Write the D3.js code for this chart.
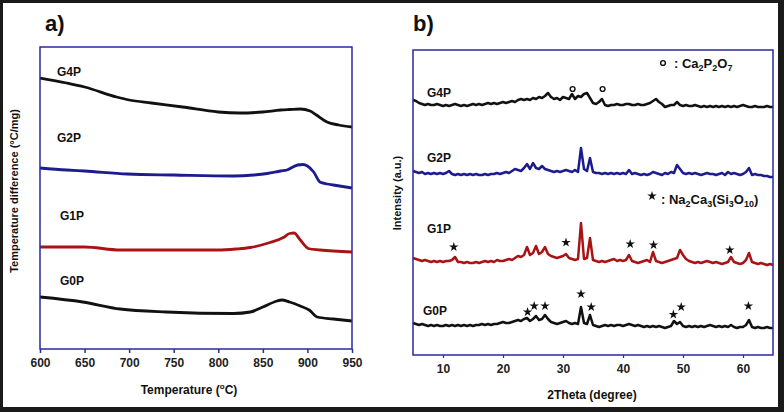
<!DOCTYPE html>
<html><head><meta charset="utf-8">
<script src="https://cdn.jsdelivr.net/npm/d3@7"></script>
<style>
body{margin:0;background:#fff}
text{font-family:"Liberation Sans",Arial,sans-serif;font-weight:bold}
</style>
</head><body>
<svg id="c" width="784" height="412"></svg>
<script>
// ---------- Panel a) DTA data (temperature °C, signal a.u.) ----------
const tempTicks = [600,650,700,750,800,850,900,950];
const g4pT = [600,630,650,686,700,725,760,800,824,850,870,880,892,903,910,922,935,950];
const g4pV = [271,266,262,252,249,246,242,237,236,237,239,239.5,240,238,234,227,224,222];
const g2pT = [600,630,650,698,750,817,840,855,870,877,889,895,900,907,914,922,929,950];
const g2pV = [181,179,178,175,174,173,174,175.5,178,179,184,184.5,183,177,167,165,164,161];
const g1pT = [600,650,690,750,799,820,836,858,873,880,885,892,901,914,950];
const g1pV = [102,102,99,99,99,100,101.5,106.5,111.5,115.5,116,109,100.5,99,97];
const g0pT = [600,648,690,742,817,836,850,866,871,880,892,902,911,929,950];
const g0pV = [52,47,40,37,35.5,37,42,48,49,47,43,39,32,30,28];
const dtaLabels = ["G4P","G2P","G1P","G0P"];

// ---------- Panel b) XRD data (2θ step 0.5°, intensity a.u.) ----------
const thetaTicks = [10,20,30,40,50,60];
const twoTheta = d3.range(5, 65.001, 0.5);
const xrdG4P = [
 255,254,252,251,250,251,250,250,251,250,
 249,250,249,250,251,250,249,250,249,250,
 251,250,251,250,251,252,251,252,251,252,
 253,252,253,254,253,255,256,255,256,255,
 257,256,258,257,259,262,258,256,257,255,
 258,257,256,261,256,259,258,261,262,257,
 252,251,253,256,250,249,250,250,251,250,
 250,251,251,250,250,251,250,250,251,252,
 254,256,253,251,248,249,250,250,253,250,
 249,250,249,249,250,249,248,249,248,249,
 248,249,248,249,248,249,248,249,248,249,
 250,249,248,248,249,248,248,248,249,248,
 248];
const xrdG2P = [
 184,183,182,183,181,182,181,182,181,182,
 181,182,184,181,180,181,180,181,180,181,
 180,181,180,180,181,180,181,181,182,181,
 182,183,182,184,186,185,184,187,191,186,
 192,187,186,189,186,185,184,183,184,183,
 184,185,184,183,185,183,207,186,184,197,
 183,182,182,181,182,181,182,181,182,181,
 182,181,185,181,182,181,180,181,180,181,
 183,182,181,180,182,181,183,182,190,186,
 182,181,182,181,182,181,180,181,182,181,
 181,180,181,182,180,183,181,182,181,180,
 181,183,187,180,181,180,180,179,179,178,
 178];
const xrdG1P = [
 97,96,95,94,95,94,93,94,93,94,
 93,94,94,95,98,93,93,92,93,92,
 92,93,92,93,94,93,94,93,95,94,
 94,95,96,95,97,99,98,100,108,100,
 102,109,101,103,108,101,99,98,97,98,
 99,101,97,96,95,96,132,96,97,117,
 95,94,93,94,93,94,95,96,94,95,
 94,95,100,94,93,92,93,94,95,93,
 103,94,93,92,93,94,95,96,97,105,
 100,96,94,93,92,93,92,93,94,93,
 92,93,92,91,92,93,98,93,92,91,
 92,95,102,93,92,91,92,91,90,91,
 90];
const xrdG0P = [
 32,31,30,31,30,29,30,29,30,29,
 29,30,29,30,29,30,29,30,29,30,
 29,30,30,31,30,31,30,31,31,32,
 33,32,32,33,34,35,34,36,37,34,
 36,39,35,36,40,36,33,32,31,32,
 33,34,32,31,32,31,48,32,31,40,
 30,29,28,29,30,29,30,29,30,30,
 29,30,31,30,29,30,29,28,29,28,
 29,28,29,28,27,28,29,34,31,33,
 29,28,29,28,29,28,29,28,29,30,
 29,28,29,28,29,28,30,28,27,28,
 28,30,35,28,27,28,27,27,28,27,
 27];
// phase markers
const circTheta = [31.6,36.6];
const circI = [266,266];
const starG1Theta = [11.8,30.5,41.2,45.1,57.8];
const starG1I = [108,112.5,111,110,105];
const starG0Theta = [24.1,25.2,27,33,34.7,48.4,49.7,60.9];
const starG0I = [43,49,49,61,48,40.5,48,49];

const colBlack="#111111", colBlue="#1c1c8e", colRed="#a81414", colAxis="#2a2aa0";

const svg = d3.select("#c");
svg.append("rect").attr("width",784).attr("height",412).attr("fill","#1a1a1a");
svg.append("rect").attr("x",3).attr("y",3).attr("width",775).attr("height",404).attr("fill","#fff");

function zip(xs, ys){ const n=Math.min(xs.length,ys.length); return d3.range(n).map(i=>[xs[i],ys[i]]); }

// ================= Panel a =================
const xA = d3.scaleLinear().domain([600,950]).range([40,352]);
const yA = d3.scaleLinear().domain([0,302]).range([349,47]);
const lineA = d3.line().x(d=>xA(d[0])).y(d=>yA(d[1])).curve(d3.curveMonotoneX);
const gA = svg.append("g");
[[g4pT,g4pV,colBlack],[g2pT,g2pV,colBlue],[g1pT,g1pV,colRed],[g0pT,g0pV,colBlack]].forEach(s=>{
  gA.append("path").datum(zip(s[0],s[1])).attr("d",lineA).attr("fill","none")
    .attr("stroke",s[2]).attr("stroke-width",2.8).attr("stroke-linejoin","round");
});
gA.append("rect").attr("x",40).attr("y",47).attr("width",312).attr("height",302)
  .attr("fill","none").attr("stroke",colAxis).attr("stroke-width",1.5);
const axA = gA.append("g").attr("transform","translate(0,349)")
  .call(d3.axisBottom(xA).tickValues(tempTicks).tickSize(4).tickPadding(5).tickSizeOuter(0));
axA.select(".domain").remove();
axA.selectAll("line").attr("stroke",colAxis).attr("stroke-width",1.5);
axA.selectAll("text").attr("font-size",12).attr("fill","#222").style("font-weight","bold");
const labYA = [71,137,215,280];
dtaLabels.forEach((t,i)=>gA.append("text").attr("x",i>=2? 60:57).attr("y",labYA[i]+4.5)
  .attr("font-size",12).attr("fill","#111").text(t));
gA.append("text").attr("x",45).attr("y",31).attr("font-size",22).attr("fill","#111").text("a)");
const tA = gA.append("text").attr("x",189).attr("y",394).attr("text-anchor","middle").attr("font-size",12).attr("fill","#111");
tA.append("tspan").text("Temperature (");
tA.append("tspan").attr("font-size",8).attr("dy",-5).text("o");
tA.append("tspan").attr("dy",5).text("C)");
gA.append("text").attr("transform","translate(18,191) rotate(-90)").attr("text-anchor","middle")
  .attr("font-size",11).attr("fill","#111").text("Temperature difference (°C/mg)");

// ================= Panel b =================
const xB = d3.scaleLinear().domain([5,65]).range([413,773]);
const yB = d3.scaleLinear().domain([0,305]).range([355,50]);
const lineB = d3.line().x(d=>xB(d[0])).y(d=>yB(d[1]));
const gB = svg.append("g");
[[xrdG4P,colBlack],[xrdG2P,colBlue],[xrdG1P,colRed],[xrdG0P,colBlack]].forEach(s=>{
  gB.append("path").datum(zip(twoTheta,s[0])).attr("d",lineB).attr("fill","none")
    .attr("stroke",s[1]).attr("stroke-width",2.5).attr("stroke-linejoin","round");
});
gB.append("rect").attr("x",413).attr("y",50).attr("width",360).attr("height",305)
  .attr("fill","none").attr("stroke",colAxis).attr("stroke-width",1.5);
const axB = gB.append("g").attr("transform","translate(0,355)")
  .call(d3.axisBottom(xB).tickValues(thetaTicks).tickSize(3).tickPadding(6).tickSizeOuter(0));
axB.select(".domain").remove();
axB.selectAll("line").attr("stroke",colAxis).attr("stroke-width",1.2);
axB.selectAll("text").attr("font-size",12).attr("fill","#222").style("font-weight","bold");
const labYB = [92,157,228,310];
dtaLabels.forEach((t,i)=>gB.append("text").attr("x",i==3?423:427).attr("y",labYB[i]+4.5)
  .attr("font-size",12).attr("fill","#111").text(t));
gB.append("text").attr("x",413).attr("y",31).attr("font-size",22).attr("fill","#111").text("b)");
gB.append("text").attr("x",592).attr("y",399).attr("text-anchor","middle").attr("font-size",12)
  .attr("fill","#111").text("2Theta (degree)");
gB.append("text").attr("transform","translate(401,193) rotate(-90)").attr("text-anchor","middle")
  .attr("font-size",11).attr("fill","#111").text("Intensity (a.u.)");

// markers
zip(circTheta,circI).forEach(d=>gB.append("circle").attr("cx",xB(d[0])).attr("cy",yB(d[1]))
  .attr("r",2.4).attr("fill","none").attr("stroke","#111").attr("stroke-width",1.4));
const star = d3.symbol(d3.symbolStar).size(28);
zip(starG1Theta,starG1I).concat(zip(starG0Theta,starG0I)).forEach(d=>
  gB.append("path").attr("d",star).attr("transform",`translate(${xB(d[0])},${yB(d[1])})`).attr("fill","#111"));

// legends
gB.append("circle").attr("cx",663).attr("cy",63).attr("r",2.4).attr("fill","none").attr("stroke","#111").attr("stroke-width",1.4);
const l1 = gB.append("text").attr("x",674).attr("y",67.5).attr("font-size",13).attr("fill","#111");
l1.append("tspan").text(":  Ca");
l1.append("tspan").attr("font-size",9).attr("dy",3).text("2");
l1.append("tspan").attr("dy",-3).text("P");
l1.append("tspan").attr("font-size",9).attr("dy",3).text("2");
l1.append("tspan").attr("dy",-3).text("O");
l1.append("tspan").attr("font-size",9).attr("dy",3).text("7");
gB.append("path").attr("d",star).attr("transform","translate(652,196)").attr("fill","#111");
const l2 = gB.append("text").attr("x",661).attr("y",203.5).attr("font-size",13).attr("fill","#111");
l2.append("tspan").text(":  Na");
l2.append("tspan").attr("font-size",9).attr("dy",3).text("2");
l2.append("tspan").attr("dy",-3).text("Ca");
l2.append("tspan").attr("font-size",9).attr("dy",3).text("3");
l2.append("tspan").attr("dy",-3).text("(Si");
l2.append("tspan").attr("font-size",9).attr("dy",3).text("3");
l2.append("tspan").attr("dy",-3).text("O");
l2.append("tspan").attr("font-size",9).attr("dy",3).text("10");
l2.append("tspan").attr("dy",-3).text(")");
</script>
</body></html>
